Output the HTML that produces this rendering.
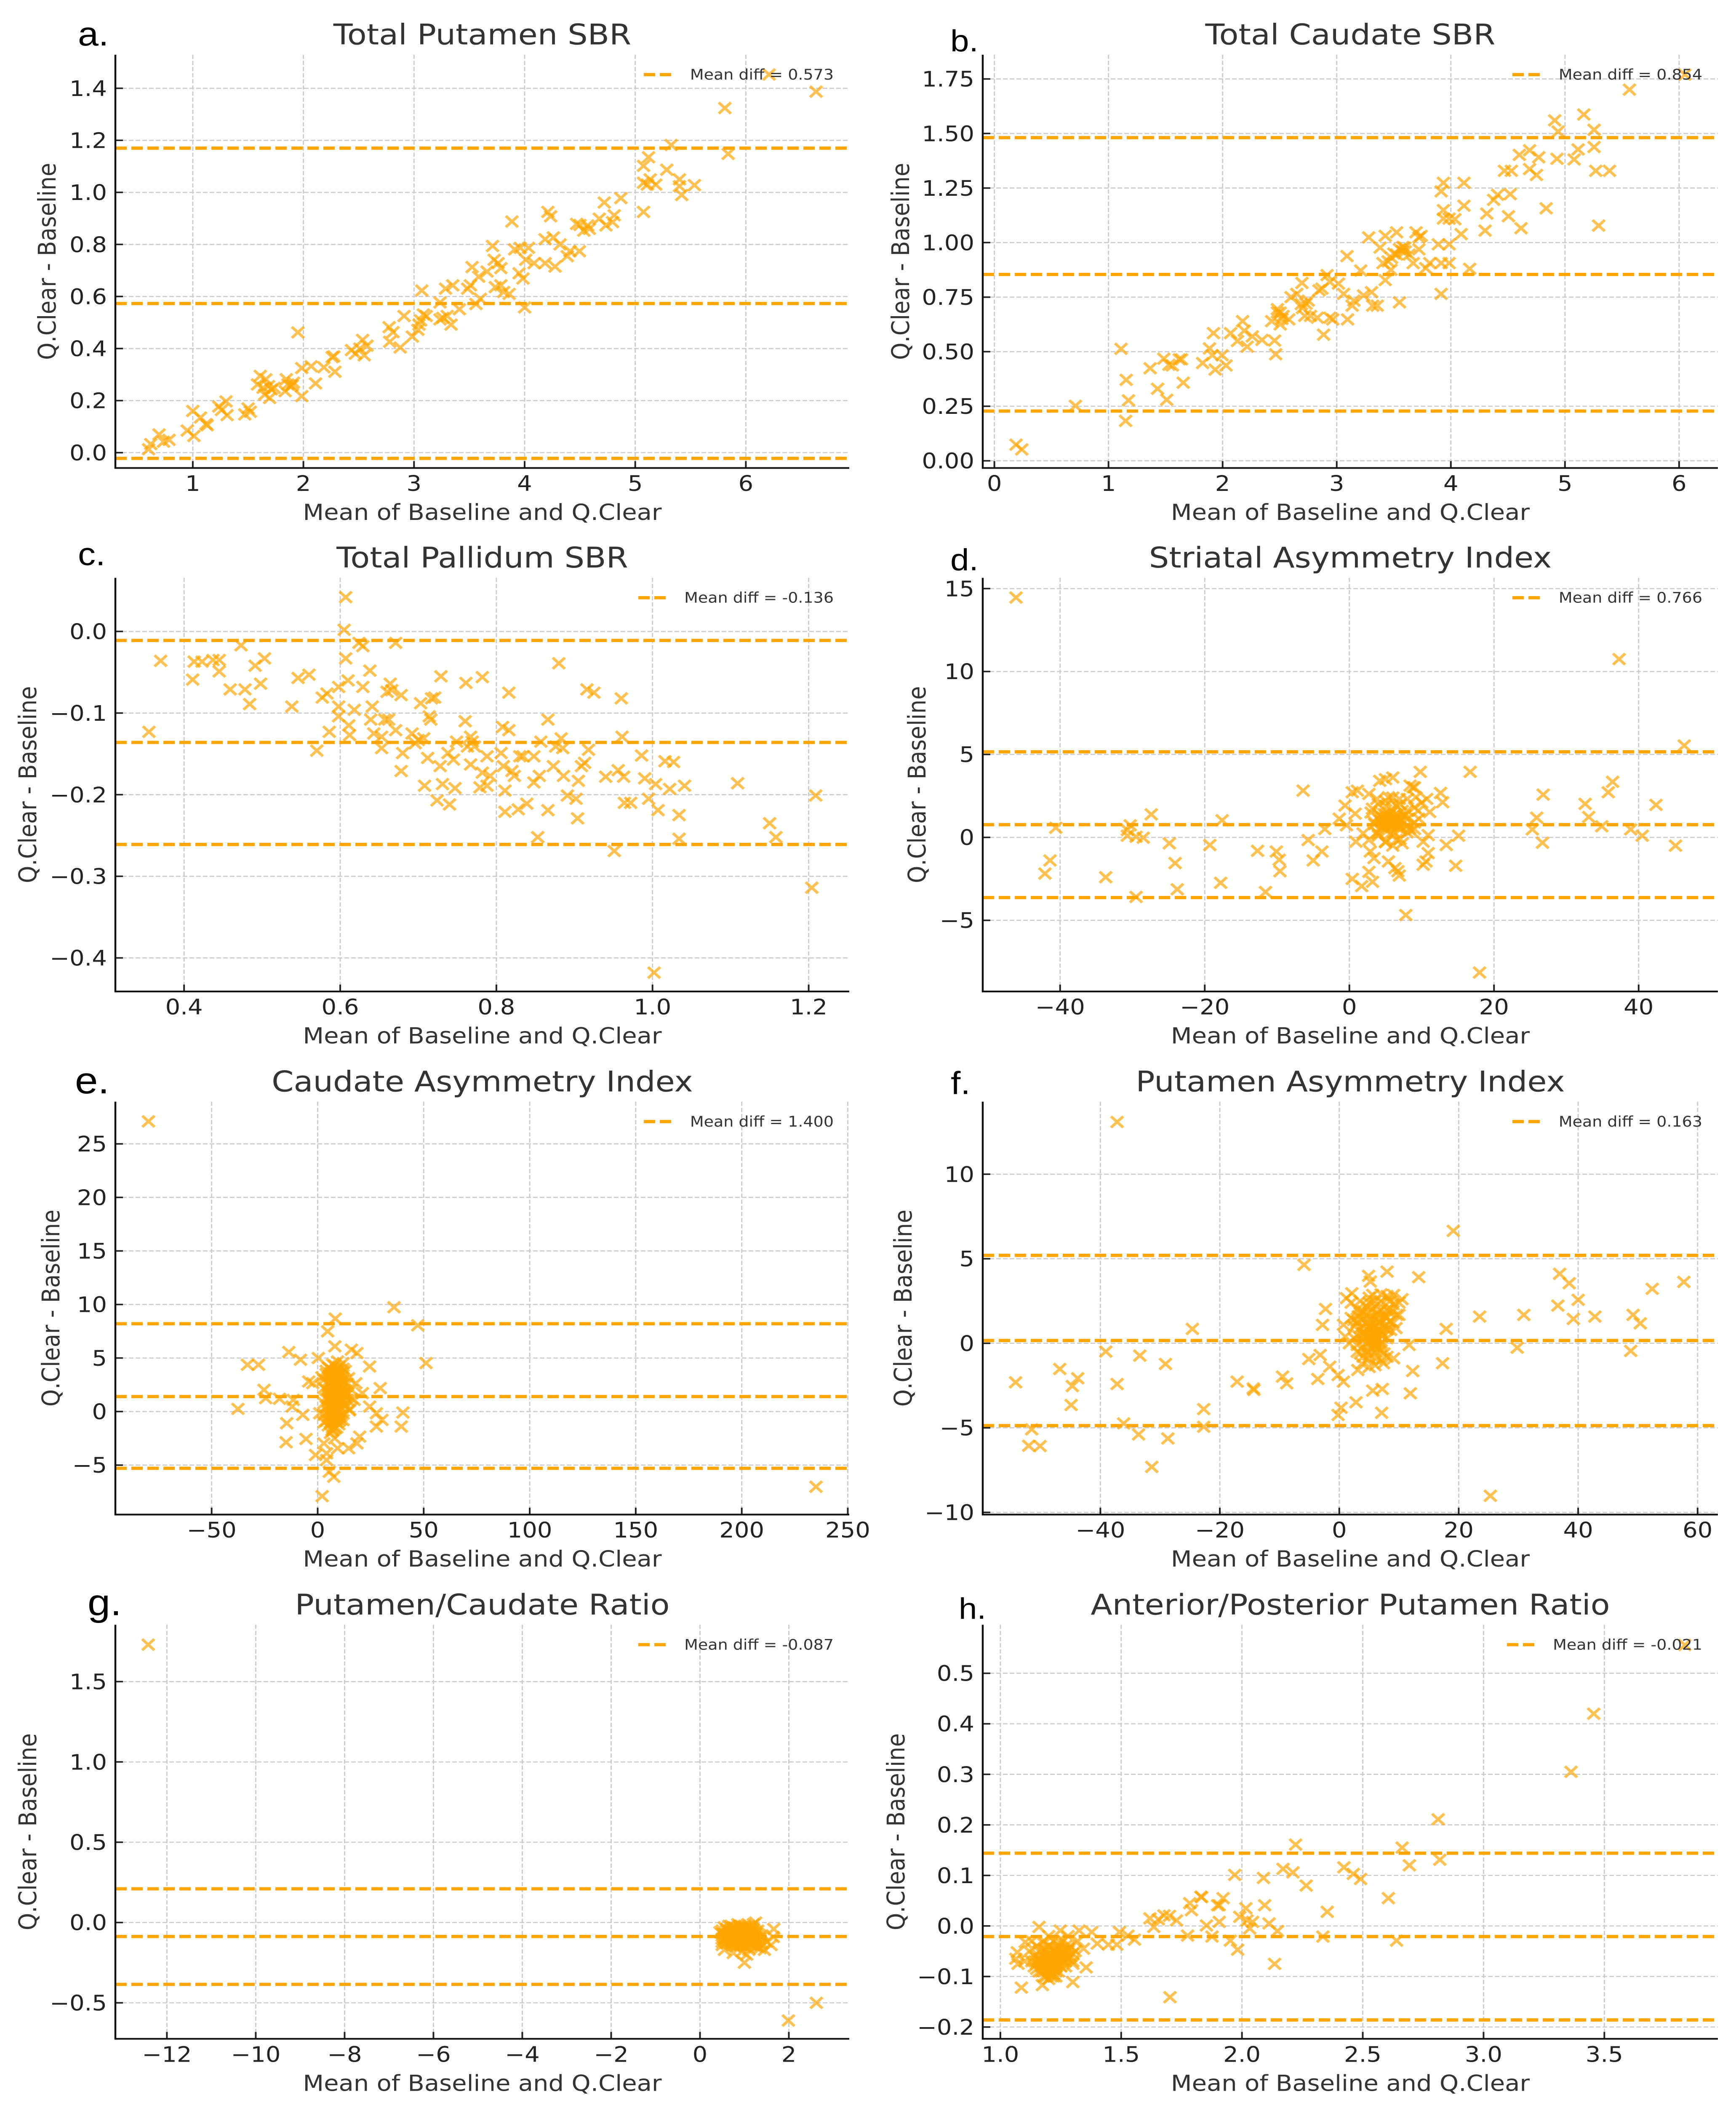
<!DOCTYPE html>
<html>
<head>
<meta charset="utf-8">
<title>Bland-Altman plots: Q.Clear vs Baseline</title>
<style>
html,body{margin:0;padding:0;background:#fff;width:100vw;height:100vh;overflow:hidden}
svg{display:block;width:100%;height:100%}
text{font-family:"DejaVu Sans","Liberation Sans",sans-serif}
</style>
</head>
<body>
<svg id="figure" xmlns="http://www.w3.org/2000/svg" viewBox="0 0 4123 5501" preserveAspectRatio="none"></svg>
<script>
/* ---- panel a ---- */
const aX=[.6,.62,.695,.735,.785,.95,1,1.01,1.07,1.12,1.13,1.235,1.3,1.26,1.31,1.47,1.5,1.52,1.61,1.585,1.635,1.66,1.685,1.65,1.71,1.695,1.735,1.845,1.86,1.885,1.835,1.91,1.9,1.95,1.985,1.985,2.07,2.11,2.185,2.26,2.285,2.275,2.435,2.47,2.535,2.51,2.55,2.575,2.78,2.775,2.81,2.875,2.91,2.985,3.035,3.045,3.07,3.085,3.06,3.11,3.235,3.235,3.26,3.3,3.285,3.335,3.35,3.41,3.485,3.51,3.525,3.56,3.585,3.6,3.66,3.71,3.725,3.76,3.785,3.735,3.785,3.81,3.86,3.885,3.91,3.96,3.95,3.985,4,4.035,4.01,4.085,4.185,4.185,4.21,4.235,4.275,4.26,4.32,4.385,4.41,4.495,4.47,4.5,4.535,4.585,4.57,4.675,4.72,4.735,4.81,4.795,4.87,5.075,5.075,5.075,5.12,5.11,5.135,5.185,5.285,5.325,5.4,5.4,5.42,5.535,5.81,5.84,6.21,6.635];
const aY=[.013,.033,.07,.042,.049,.085,.16,.064,.135,.11,.105,.177,.197,.164,.144,.147,.17,.157,.295,.262,.249,.282,.256,.223,.243,.21,.249,.282,.262,.256,.236,.269,.259,.462,.217,.325,.332,.266,.328,.367,.311,.37,.394,.38,.433,.4,.374,.411,.426,.482,.463,.404,.525,.446,.472,.492,.623,.531,.508,.525,.577,.512,.518,.525,.63,.492,.643,.551,.63,.643,.713,.571,.676,.591,.696,.794,.741,.728,.709,.636,.643,.617,.61,.888,.781,.787,.689,.669,.558,.787,.741,.728,.728,.82,.925,.908,.715,.827,.8,.755,.774,.774,.879,.875,.853,.86,.873,.899,.961,.873,.912,.886,.978,.925,1.037,1.102,1.135,1.03,1.05,1.03,1.087,1.182,1.05,1.024,.99,1.028,1.324,1.148,1.453,1.387];
const aXTicks=[1,2,3,4,5,6];
const aYTicks=[0,.2,.4,.6,.8,1,1.2,1.4];
const aLines=[1.17,.573,-.022];
const aMeanLabel="Mean diff = 0.573";

/* ---- panel b ---- */
const bX=[.19,.24,.71,1.11,1.155,1.175,1.15,1.365,1.43,1.485,1.51,1.53,1.56,1.62,1.64,1.655,1.825,1.885,1.92,1.91,1.935,1.995,2.03,2.07,2.13,2.175,2.19,2.215,2.26,2.345,2.455,2.465,2.43,2.505,2.48,2.505,2.53,2.6,2.58,2.65,2.69,2.695,2.72,2.75,2.77,2.83,2.845,2.87,2.885,2.915,2.94,2.965,2.94,3.015,3.06,3.09,3.095,3.135,3.15,3.21,3.235,3.28,3.305,3.315,3.355,3.38,3.405,3.425,3.425,3.45,3.475,3.525,3.525,3.55,3.575,3.595,3.635,3.67,3.695,3.72,3.74,3.72,3.78,3.815,3.89,3.915,3.915,3.915,3.935,3.935,3.935,3.985,3.985,3.985,4.035,4.09,4.115,4.115,4.165,4.3,4.315,4.375,4.41,4.505,4.47,4.53,4.52,4.6,4.615,4.69,4.69,4.75,4.77,4.835,4.91,4.94,4.93,5.08,5.115,5.165,5.255,5.255,5.27,5.295,5.39,5.565,6.05,2.48,2.52,2.7,2.73,3.5,3.55,3.6,3.48,3.58];
const bY=[.074,.052,.252,.513,.371,.277,.183,.424,.33,.468,.28,.44,.437,.465,.465,.358,.448,.515,.585,.484,.418,.484,.437,.585,.549,.64,.596,.523,.57,.554,.551,.488,.64,.625,.695,.679,.664,.75,.648,.765,.718,.815,.664,.734,.664,.656,.781,.789,.578,.851,.656,.648,.82,.812,.765,.938,.648,.711,.734,.872,.758,1.024,.773,.711,.711,.977,.906,1.031,.828,.914,.875,1.047,.945,.726,.961,.977,.945,.906,1.047,1.024,1.031,.969,.883,.906,.992,.906,.765,1.235,1.274,1.149,1.11,1.11,.992,.906,1.107,1.039,1.274,1.169,.88,1.055,1.133,1.196,1.219,1.121,1.329,1.329,1.222,1.402,1.066,1.423,1.337,1.31,1.391,1.157,1.56,1.509,1.384,1.381,1.427,1.587,1.517,1.438,1.329,1.078,1.329,1.701,1.77,.68,.65,.7,.72,.95,.97,.96,.93,.98];
const bXTicks=[0,1,2,3,4,5,6];
const bYTicks=[0,.25,.5,.75,1,1.25,1.5,1.75];
const bLines=[1.481,.854,.228];
const bMeanLabel="Mean diff = 0.854";

/* ---- panel c ---- */
const cX=[.355,.37,.411,.413,.423,.437,.445,.445,.459,.473,.478,.484,.491,.498,.503,.538,.546,.56,.57,.577,.583,.586,.598,.598,.598,.605,.607,.607,.61,.611,.612,.618,.624,.629,.629,.638,.641,.639,.643,.653,.653,.66,.664,.666,.657,.662,.671,.671,.678,.68,.678,.692,.696,.703,.7,.707,.712,.714,.716,.717,.721,.708,.724,.728,.729,.731,.738,.74,.745,.747,.749,.76,.761,.763,.767,.767,.769,.772,.779,.782,.782,.788,.788,.792,.806,.808,.809,.811,.811,.816,.816,.82,.823,.828,.83,.834,.839,.848,.848,.853,.855,.857,.866,.866,.873,.876,.88,.883,.885,.886,.891,.902,.904,.905,.909,.913,.916,.918,.925,.94,.951,.956,.96,.961,.963,.964,.972,.986,.99,.995,1.002,1.004,1.007,1.016,1.022,1.027,1.034,1.034,1.041,1.109,1.15,1.158,1.204,1.209];
const cY=[-.123,-.036,-.059,-.037,-.037,-.035,-.035,-.049,-.071,-.017,-.071,-.089,-.042,-.064,-.033,-.092,-.057,-.053,-.146,-.081,-.076,-.123,-.068,-.092,-.104,.002,.042,-.033,-.06,-.115,-.127,-.096,-.014,-.018,-.068,-.048,-.092,-.108,-.125,-.129,-.143,-.074,-.064,-.072,-.108,-.108,-.014,-.121,-.078,-.149,-.171,-.125,-.137,-.088,-.133,-.131,-.155,-.104,-.108,-.082,-.081,-.189,-.207,-.165,-.055,-.187,-.149,-.212,-.157,-.192,-.135,-.11,-.063,-.141,-.129,-.163,-.135,-.141,-.191,-.056,-.173,-.153,-.189,-.177,-.149,-.117,-.165,-.195,-.221,-.075,-.121,-.171,-.177,-.218,-.153,-.153,-.211,-.153,-.185,-.252,-.177,-.135,-.219,-.108,-.165,-.141,-.039,-.131,-.143,-.177,-.201,-.205,-.229,-.183,-.165,-.161,-.071,-.145,-.075,-.178,-.269,-.17,-.082,-.129,-.178,-.21,-.21,-.152,-.18,-.205,-.418,-.187,-.219,-.159,-.193,-.16,-.225,-.254,-.189,-.186,-.235,-.252,-.314,-.201];
const cXTicks=[.4,.6,.8,1,1.2];
const cYTicks=[0,-.1,-.2,-.3,-.4];
const cLines=[-.011,-.136,-.261];
const cMeanLabel="Mean diff = -0.136";

/* ---- panel d ---- */
const dX=[-46.1,-42.1,-41.4,-40.6,-33.7,-30.7,-30.3,-30.7,-29.5,-29.5,-28.5,-27.4,-24.9,-24.1,-23.8,-19.3,-17.8,-17.6,-12.7,-11.6,-10.1,-9.7,-9.6,-6.4,-5.7,-5,-3.8,-3.4,-1.4,-.6,-.4,.4,.4,.8,.9,1.1,1.7,1.9,2.7,2.7,2.7,2.9,3.2,3.2,3.4,3.4,3.8,4.2,4.2,4.6,5,5,5.4,5.2,5.4,5.7,5.7,5.7,6,6.1,6.3,6.5,6.5,6.7,6.9,6.9,7,7.3,7.7,7.8,8,8.3,8.4,8.8,9,9.2,9.6,9.8,10.2,10.2,10.6,10.7,10.9,10.9,11.1,12.6,12.9,13.4,14.7,15.1,16.7,18,25.3,25.9,26.7,26.8,32.6,33.1,34.9,35.8,36.4,37.3,38.9,40.5,42.4,45.1,46.3,4.5,5,5.5,6,6.3,5.2,4.8,6.6,7,5.8,4.3,6.2,7.3,3.8,8,5,6.5,9,9.5,4,5.3,5.6,5.9,6.1,5.4,4.9,6.4,4.6,7.1,6.8,3,4,5,6,7,8,9,10,4,5,6,7,8,9,4.5,5.5,6.5,7.5,8.5,3.5,5,6,7,4,8];
const dY=[14.46,-2.18,-1.39,.58,-2.4,.44,.73,.1,-3.59,.04,-.02,1.39,-.36,-1.55,-3.13,-.46,-2.74,1.03,-.81,-3.29,-.85,-1.35,-2.04,2.82,-.16,-1.39,-.85,.5,1.13,1.92,.73,2.72,-2.5,1.43,-.26,2.82,-2.94,.24,2.62,-2.08,-.16,-.85,1.73,-2.68,-1.25,.93,2.32,3.41,1.33,.73,3.51,-.26,2.42,1.03,-1.45,1.43,.93,.24,3.61,.73,-1.85,1.13,-.16,-2.04,-2.3,2.32,.63,-.36,1.33,-4.68,2.32,.54,3.12,3.02,3.02,2.42,1.13,3.95,-.26,-1.65,-1.45,2.32,-.95,.14,1.53,2.68,2.12,-.46,-1.71,.1,3.95,-8.15,.48,1.19,-.32,2.58,2.02,1.23,.67,2.72,3.35,10.75,.48,.1,1.96,-.5,5.54,.6,1,1.3,.8,1.2,.4,1.4,.6,1,1.7,1,.3,1.6,.3,1.1,1.9,1.9,.9,1.6,.1,.9,1.1,.7,1,.8,.7,1.4,1.2,.5,.8,1.5,2,2.2,2.4,2,1.6,1.8,2.1,.2,-.3,-.5,-.1,.3,.5,.9,.7,1.1,1.3,.4,.8,1.2,1,.9,1.2,.7];
const dXTicks=[-40,-20,0,20,40];
const dYTicks=[15,10,5,0,-5];
const dLines=[5.16,.766,-3.63];
const dMeanLabel="Mean diff = 0.766";

/* ---- panel e ---- */
const eX=[-79.8,-37.6,-33.1,-27.9,-25.3,-24.5,-18,-14.6,-14.9,-13.6,-12,-11.5,-8.1,-5.5,-7,-4.2,-2.3,-1,.3,1,2.1,2.9,2.9,4.2,4.2,4.7,5.5,6.8,6.8,6.8,7.6,8.1,8.3,8.3,8.3,9.4,9.4,9.9,10.7,10.7,12,12.5,14.6,14.6,15.9,15.9,17.2,18.5,18.5,18,19.8,21.1,24.5,24.5,27.7,27.7,29.5,30.3,36,39.4,40.2,47.2,51.1,235,6,7,8,9,10,7,8,9,10,8,7,6,9,8,5,6,9,10,11,12,11,12,13,4,3,10,12,6,5,4,7,8,9,6,7,8,9,10,5,6,2,3,4,5,6,7,8,9,10,11,12,13,14,15,3,5,7,9,11,13,4,6,8,10,12,14,5,7,9,11,13,6,8,10,12,3,5,7,9,11,13,15,16,4,6,8,10,12,14,5,6,7,8,9,10,11,12,5,6,7,8,9,10,11,6,7,8,9,10,11,6,7,8,9,10,7,8,9,10];
const eY=[27.1,.25,4.37,4.37,2.03,1.25,1.19,-1.09,-2.87,5.56,.47,1.09,4.84,-2.56,-.31,2.81,2.65,-4.06,5,-.16,-7.9,-2.97,2.97,-3.9,-4.53,7.49,-5.62,-1.72,1.09,3.59,-6.09,6.09,8.68,2.34,-.47,4.68,-3.43,1.4,3.59,-.78,4.53,1.72,-3.43,3.12,2.03,5.78,1.09,5.46,-2.97,2.65,-2.34,1.72,4.21,.47,-.16,-1.4,2.19,-.78,9.74,-1.4,-.09,8.05,4.53,-7.02,4,3,3.5,3,2.5,2,1.5,1,.5,0,-.5,-1,-1,-1.5,0,.5,4,3.5,3,2.5,2,1,.5,.5,-1,-.5,-.2,3,2.5,3.5,1,2.5,2,-.3,.2,.8,1.6,1.2,1.5,-.7,3.2,2.2,3.8,1.2,-2,4.4,-2.5,-.2,4.2,.4,3.4,2,1.1,.2,.8,-1.3,3.3,2.7,1.3,3.8,2,-.4,.9,1.9,-.8,2.6,4.1,-1.8,.3,3.6,.7,1.5,2.2,.1,4,-.3,.4,.6,1.8,2.3,1.5,.1,1.2,-.9,3.6,4.3,-1.2,2.9,1.6,1,1.8,.5,2.5,.2,1,.8,1.6,2,2.8,3.8,-.8,3.7,.9,2.5,-.1,1.2,.6,2.2,1.8,-.4,3.4,-1.5,3.2,-1.5,3.9,-.2,2.2,.7,-.9];
const eXTicks=[-50,0,50,100,150,200,250];
const eYTicks=[25,20,15,10,5,0,-5];
const eLines=[8.2,1.4,-5.3];
const eMeanLabel="Mean diff = 1.400";

/* ---- panel f ---- */
const fX=[-54.2,-51.5,-52,-50.1,-46.8,-44.9,-44.7,-43.8,-39.1,-37.2,-37.2,-36.1,-33.6,-33.4,-31.4,-29.1,-28.7,-24.6,-22.7,-22.7,-17.1,-14.4,-14.3,-9.5,-8.8,-5.9,-5.1,-3.6,-3.2,-2.8,-2.3,-1.6,-.2,.3,-.2,.7,.7,1.2,1.7,2.1,2.4,2.8,3.1,3.5,3.5,4.5,4.9,5.2,5.6,5.4,5.6,5.8,6.3,6.5,7.1,7.2,7.4,7.7,8,8.2,8.6,9.1,9.1,9.6,10,10.5,11.7,11.9,12.3,13.3,17.3,17.9,19.1,23.5,25.3,29.8,30.9,36.6,36.9,38.5,39.2,40,42.8,48.8,49.2,50.4,52.4,57.7,3,4,5,5.5,6,6.5,7,7.5,4.5,5,6,7,7.5,3.5,4.5,6,8,5,6,4,8.5,9,2.5,3.8,5,7,8,5.3,5.7,6.2,6.7,4.8,5.5,6,3.2,7.2,4.2,8.2,2,3,4,5,6,7,8,9,10,2.5,3.5,4.5,5.5,6.5,7.5,8.5,9.5,3,4,5,6,7,8,1,2,3,4,5,6,7,8,9,3,4,5,6,7,8,4,5,6,7,5,6,7,4,5,6,3,5,6,8,7,4,6,5,7];
const fY=[-2.31,-5.09,-6.06,-6.08,-1.52,-3.65,-2.53,-2.07,-.49,13.09,-2.41,-4.74,-5.39,-.73,-7.31,-1.22,-5.63,.85,-3.89,-4.94,-2.27,-2.67,-2.76,-1.97,-2.37,4.64,-.93,-2.11,-.69,1.09,2.03,-1.38,-4.24,-3.81,-1.88,-2.27,1.09,2.67,0,2.96,1.38,-3.49,-1.58,1.78,-.59,.39,3.99,3.65,-2.8,1.38,2.86,-.2,1.78,.79,-4.11,-2.7,-1.18,1.58,4.24,2.67,.79,-.89,2.86,1.68,1.68,2.61,-.1,-2.96,-1.64,3.91,-1.18,.85,6.65,1.58,-9.02,-.26,1.68,2.23,4.11,3.55,1.44,2.57,1.58,-.45,1.68,1.18,3.22,3.63,.5,1,1.5,.5,1,1.5,2,1,-.5,-.2,-.5,0,-.6,2.5,2.2,2.5,2,.8,.2,.2,1.3,2.3,1,-1.2,-1.4,-1,-.8,1.1,.6,.4,1.2,.1,.9,-.1,1.6,.4,.6,1.9,2.4,2,1.8,2.7,2.2,2.9,2.8,1.2,2.4,.3,.9,1.2,2,1.8,1.6,2.5,.9,-.5,-.8,-.9,-1.3,-.4,.3,.4,1.5,1.3,.6,0,.3,.7,1.1,1.9,1.2,.6,.4,.6,.5,.8,1.4,1.8,1.4,1.2,.1,.1,.6,-.2,-.7,-.2,-.1,1,.7,1.5,2.5,1.9,-.9,2.4,-.2];
const fXTicks=[-40,-20,0,20,40,60];
const fYTicks=[10,5,0,-5,-10];
const fLines=[5.2,.163,-4.87];
const fMeanLabel="Mean diff = 0.163";

/* ---- panel g ---- */
const gX=[-12.42,2.62,1.99,1.66,1,.75,.45,.5,.5,.55,.6,.6,.65,.65,.7,.7,.7,.75,.8,.8,.8,.85,.85,.9,.9,.95,.95,1,1,1,1.05,1.05,1.1,1.1,1.1,1.15,1.15,1.2,1.2,1.2,1.25,1.25,1.3,1.35,1.35,1.4,1.45,1.5,1.6,1.65,.55,.75,.95,1.05,1.25,.5,.6,.7,.8,.9,1,1.1,1.2,.65,.85,1.05,1.15,.75,.95,1.3,.55,1.25,.9,1.15,.6,1.35,.72,.82,.92,1.02,1.12,1.22,.5,.6,.7,.8,.9,1,1.1,1.2,1.3,1.4,.55,.65,.75,.85,.95,1.05,1.15,1.25,1.35,.5,.6,.7,.8,.9,1,1.1,1.2,1.3,.65,.75,.85,.95,1.05,1.15,.7,.85,1,1.15,.6,.9];
const gY=[1.73,-.5,-.61,-.04,-.25,-.19,-.06,-.1,-.14,-.03,-.08,-.12,-.05,-.1,-.02,-.07,-.13,-.09,-.04,-.11,-.15,-.07,-.01,-.1,-.05,-.13,-.08,-.03,-.09,-.15,-.06,-.12,-.1,-.17,-.04,-.08,-.14,-.01,-.06,-.11,-.09,-.15,-.12,-.1,-.16,-.13,-.17,-.12,-.14,-.09,-.17,-.14,-.18,-.2,0,-.07,-.05,-.1,-.08,-.12,-.06,-.07,-.09,-.08,-.12,-.09,-.11,-.06,-.1,-.07,-.1,-.12,-.03,-.05,-.1,-.13,-.12,-.06,-.14,-.11,-.13,-.14,-.05,-.04,-.04,-.06,-.02,-.02,-.02,-.04,-.05,-.08,-.07,-.07,-.07,-.05,-.06,-.08,-.06,-.07,-.08,-.12,-.13,-.11,-.13,-.08,-.12,-.13,-.13,-.15,-.02,-.03,-.09,-.03,-.04,-.03,-.06,-.14,-.11,-.11,-.1,-.14];
const gXTicks=[-12,-10,-8,-6,-4,-2,0,2];
const gYTicks=[1.5,1,.5,0,-.5];
const gLines=[.21,-.087,-.385];
const gMeanLabel="Mean diff = -0.087";

/* ---- panel h ---- */
const hX=[1.087,1.174,1.3,1.355,1.16,1.07,1.064,1.073,1.103,1.248,1.326,1.378,1.344,1.401,1.447,1.482,1.493,1.528,1.555,1.619,1.635,1.654,1.677,1.7,1.702,1.729,1.775,1.784,1.791,1.83,1.833,1.853,1.876,1.899,1.906,1.906,1.922,1.952,1.97,1.982,1.991,2.016,2.021,2.032,2.044,2.089,2.094,2.112,2.135,2.147,2.17,2.211,2.222,2.266,2.335,2.353,2.422,2.461,2.491,2.606,2.64,2.663,2.693,2.812,2.819,3.362,3.456,3.833,1.1,1.12,1.14,1.15,1.16,1.17,1.18,1.18,1.19,1.2,1.2,1.21,1.21,1.22,1.22,1.23,1.23,1.24,1.24,1.25,1.25,1.26,1.26,1.27,1.28,1.29,1.3,1.31,1.32,1.18,1.13,1.2,1.28,1.16,1.22,1.19,1.21,1.23,1.25,1.2,1.22,1.17,1.24,1.26,1.15,1.28,1.14,1.16,1.18,1.2,1.22,1.24,1.26,1.28,1.3,1.15,1.17,1.19,1.21,1.23,1.25,1.27,1.29,1.16,1.18,1.2,1.22,1.24,1.26,1.28,1.17,1.19,1.21,1.23,1.25,1.27,1.18,1.2,1.22,1.24,1.19,1.21,1.23,1.2,1.22,1.15,1.18,1.24,1.3,1.13,1.27];
const hY=[-.122,-.117,-.111,-.082,-.002,-.052,-.065,-.075,-.032,-.009,-.009,-.012,-.045,-.035,-.037,-.037,-.012,-.019,-.027,.015,-.002,.013,.021,.02,-.141,.011,-.019,.045,.031,.058,.057,.001,-.021,.041,.041,.008,.055,-.029,.101,-.047,.018,.035,.011,-.005,.008,.095,.041,.005,-.075,-.01,.113,.106,.161,.08,-.021,.028,.116,.103,.093,.055,-.029,.155,.12,.211,.131,.305,.42,.556,-.07,-.05,-.08,-.04,-.06,-.09,-.03,-.07,-.05,-.08,-.04,-.1,-.06,-.07,-.03,-.05,-.09,-.06,-.04,-.08,-.05,-.03,-.07,-.05,-.06,-.04,-.07,-.05,-.03,-.1,-.03,-.02,-.02,-.09,-.095,-.065,-.055,-.075,-.065,-.06,-.05,-.07,-.06,-.055,-.07,-.045,-.06,-.065,-.06,-.055,-.05,-.055,-.06,-.065,-.055,-.075,-.07,-.075,-.07,-.065,-.07,-.07,-.06,-.05,-.045,-.04,-.045,-.045,-.05,-.05,-.08,-.085,-.08,-.08,-.08,-.08,-.09,-.09,-.085,-.09,-.1,-.095,-.1,-.105,-.1,-.085,-.035,-.03,-.075,-.07,-.04];
const hXTicks=[1,1.5,2,2.5,3,3.5];
const hYTicks=[.5,.4,.3,.2,.1,0,-.1,-.2];
const hLines=[.144,-.021,-.186];
const hMeanLabel="Mean diff = -0.021";

const NS="http://www.w3.org/2000/svg";
const svg=document.getElementById('figure');

function mk(parent,tag,attrs,name){
  const el=document.createElementNS(NS,tag);
  for(const k in attrs){el.setAttribute(k,attrs[k]);}
  
  
  parent.appendChild(el);
  return el;
}
function fmt(v,d){return v.toFixed(d).replace('-','\u2212');}

const COL=[[274,2017],[2334,4080]];
const ROW=[[143,1223],[1510,2591],[2879,3958],[4246,5328]];

const panels=[
 {id:'a',title:'Total Putamen SBR',col:0,row:0,xlim:[.3,6.935],ylim:[-.059,1.529],X:aX,Y:aY,xt:aXTicks,yt:aYTicks,lines:aLines,mean:aMeanLabel,xd:0,yd:1,lx:185,ly:119,ls:88,yl:112},
 {id:'b',title:'Total Caudate SBR',col:1,row:0,xlim:[-.102,6.34],ylim:[-.033,1.861],X:bX,Y:bY,xt:bXTicks,yt:bYTicks,lines:bLines,mean:bMeanLabel,xd:0,yd:2,lx:2257,ly:134,ls:80,yl:2139},
 {id:'c',title:'Total Pallidum SBR',col:0,row:1,xlim:[.312,1.252],ylim:[-.4411,.0657],X:cX,Y:cY,xt:cXTicks,yt:cYTicks,lines:cLines,mean:cMeanLabel,xd:1,yd:1,lx:185,ly:1477,ls:84,yl:66},
 {id:'d',title:'Striatal Asymmetry Index',col:1,row:1,xlim:[-50.7,50.96],ylim:[-9.29,15.65],X:dX,Y:dY,xt:dXTicks,yt:dYTicks,lines:dLines,mean:dMeanLabel,xd:0,yd:0,lx:2257,ly:1490,ls:80,yl:2178},
 {id:'e',title:'Caudate Asymmetry Index',col:0,row:2,xlim:[-95.4,250.7],ylim:[-9.62,28.94],X:eX,Y:eY,xt:eXTicks,yt:eYTicks,lines:eLines,mean:eMeanLabel,xd:0,yd:0,lx:178,ly:2857,ls:98,yl:121},
 {id:'f',title:'Putamen Asymmetry Index',col:1,row:2,xlim:[-59.7,63.4],ylim:[-10.13,14.29],X:fX,Y:fY,xt:fXTicks,yt:fYTicks,lines:fLines,mean:fMeanLabel,xd:0,yd:0,lx:2258,ly:2859,ls:84,yl:2145},
 {id:'g',title:'Putamen/Caudate Ratio',col:0,row:3,xlim:[-13.16,3.36],ylim:[-.724,1.854],X:gX,Y:gY,xt:gXTicks,yt:gYTicks,lines:gLines,mean:gMeanLabel,xd:0,yd:1,lx:208,ly:4221,ls:97,yl:66},
 {id:'h',title:'Anterior/Posterior Putamen Ratio',col:1,row:3,xlim:[.927,3.97],ylim:[-.2233,.596],X:hX,Y:hY,xt:hXTicks,yt:hYTicks,lines:hLines,mean:hMeanLabel,xd:1,yd:1,lx:2277,ly:4230,ls:78,yl:2128}
];

const ORANGE='#FFA500';
panels.forEach(function(p){
  const x0=COL[p.col][0],x1=COL[p.col][1],y0=ROW[p.row][0],y1=ROW[p.row][1];
  const sx=function(v){return x0+(v-p.xlim[0])/(p.xlim[1]-p.xlim[0])*(x1-x0);};
  const sy=function(v){return y1-(v-p.ylim[0])/(p.ylim[1]-p.ylim[0])*(y1-y0);};
  const g=mk(svg,'g',{},'panel-'+p.id);

  p.xt.forEach(function(v){
    mk(g,'line',{x1:sx(v),x2:sx(v),y1:y0,y2:y1,stroke:'#cccccc','stroke-width':3,'stroke-dasharray':'11 5'},'x-gridline');
  });
  p.yt.forEach(function(v){
    mk(g,'line',{x1:x0,x2:x1,y1:sy(v),y2:sy(v),stroke:'#cccccc','stroke-width':3,'stroke-dasharray':'11 5'},'y-gridline');
  });

  p.X.forEach(function(xv,i){
    const cx=sx(xv),cy=sy(p.Y[i]),r=14.5;
    mk(g,'path',{d:'M'+(cx-r)+' '+(cy-r)+'L'+(cx+r)+' '+(cy+r)+'M'+(cx-r)+' '+(cy+r)+'L'+(cx+r)+' '+(cy-r),fill:'none',stroke:ORANGE,'stroke-opacity':.68,'stroke-width':7},'data-point');
  });

  p.lines.forEach(function(v,i){
    mk(g,'line',{x1:x0,x2:x1,y1:sy(v),y2:sy(v),stroke:ORANGE,'stroke-width':8.5,'stroke-dasharray':'27 11'},i===1?'mean-diff-line':(i===0?'upper-limit-line':'lower-limit-line'));
  });

  p.xt.forEach(function(v){
    mk(g,'line',{x1:sx(v),x2:sx(v),y1:y1,y2:y1-18,stroke:'#222','stroke-width':4},'x-tick');
    const t=mk(g,'text',{x:sx(v),y:y1+60,'text-anchor':'middle','font-size':56,fill:'#222'},'x-tick-label');
    t.textContent=fmt(v,p.xd);
  });
  p.yt.forEach(function(v){
    mk(g,'line',{x1:x0,x2:x0+18,y1:sy(v),y2:sy(v),stroke:'#222','stroke-width':4},'y-tick');
    const t=mk(g,'text',{x:x0-20,y:sy(v)+20,'text-anchor':'end','font-size':56,fill:'#222'},'y-tick-label');
    t.textContent=fmt(v,p.yd);
  });

  mk(g,'line',{x1:x0,x2:x0,y1:y0,y2:y1+2,stroke:'#111','stroke-width':4.5},'y-axis-spine');
  mk(g,'line',{x1:x0-2,x2:x1,y1:y1,y2:y1,stroke:'#111','stroke-width':4.5},'x-axis-spine');

  const title=mk(g,'text',{x:(x0+x1)/2,y:y0-27,'text-anchor':'middle','font-size':75,fill:'#333'},'chart-title');
  title.textContent=p.title;
  const xl=mk(g,'text',{x:(x0+x1)/2,y:y1+136,'text-anchor':'middle','font-size':57.6,fill:'#333'},'x-axis-title');
  xl.textContent='Mean of Baseline and Q.Clear';
  const ym=(y0+y1)/2;
  const yl=mk(g,'text',{x:p.yl,y:ym,'text-anchor':'middle','dominant-baseline':'central','font-size':57.5,fill:'#333',transform:'rotate(-90 '+p.yl+' '+ym+')'},'y-axis-title');
  yl.textContent='Q.Clear - Baseline';

  const neg=p.mean.indexOf('-')>=0;
  const textEnd=x1-37;
  const textW=neg?356:343;
  const hx=textEnd-textW-108;
  mk(g,'line',{x1:hx,x2:hx+66,y1:y0+52,y2:y0+52,stroke:ORANGE,'stroke-width':8.5,'stroke-dasharray':'27 11'},'legend-line');
  const lg=mk(g,'text',{x:textEnd,y:y0+65,'text-anchor':'end','font-size':38,fill:'#333'},'legend-label');
  lg.textContent=p.mean;

  const letter=mk(g,'text',{x:p.lx,y:p.ly,'font-size':p.ls,fill:'#000',style:'font-family:"Liberation Sans",sans-serif'},'panel-letter');
  letter.textContent=p.id+'.';
});
</script>
</body>
</html>
